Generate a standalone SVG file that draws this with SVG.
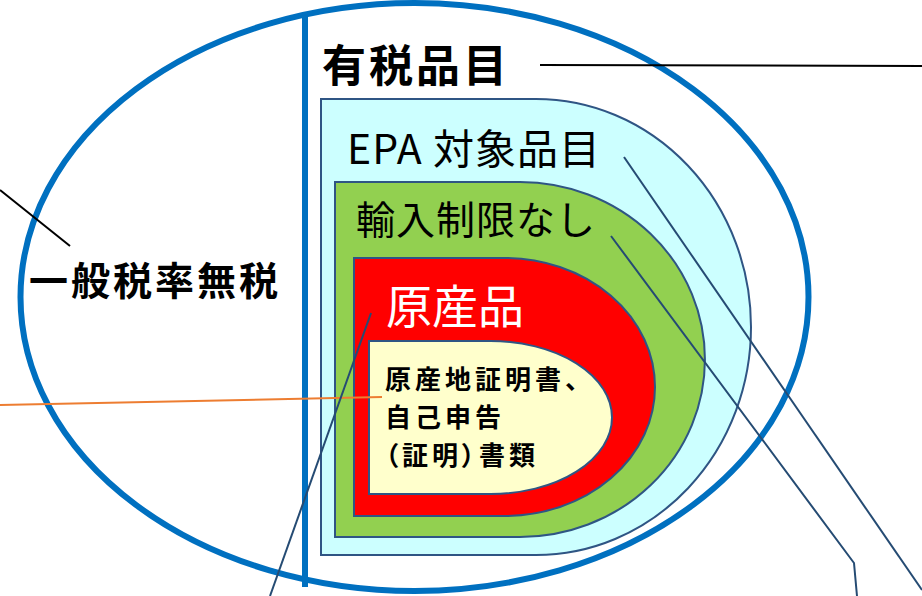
<svg xmlns="http://www.w3.org/2000/svg" width="922" height="596" viewBox="0 0 922 596">
<style>
.t{font-family:"Noto Sans CJK JP","Noto Sans",sans-serif;fill:#000}
.b{font-weight:bold}
.sh{stroke:#2F5584;stroke-width:2}
.ln{fill:none;stroke-width:2}
</style>
<rect width="922" height="596" fill="#fff"/>
<g id="outer">
<ellipse cx="414.5" cy="297" rx="394" ry="294" fill="none" stroke="#0070C0" stroke-width="6"/>
<line x1="305" y1="15" x2="305" y2="587" stroke="#0070C0" stroke-width="6"/>
</g>
<g id="taxable">
<text class="t b" x="322" y="82" font-size="44" letter-spacing="3">有税品目</text>
</g>
<g id="epa">
<path class="sh" d="M321,99 H536 A215,228 0 0 1 536,555 H321 Z" fill="#CCFFFF"/>
<text class="t" x="347" y="164" font-size="41" letter-spacing="1">EPA 対象品目</text>
</g>
<g id="norestrict">
<path class="sh" d="M335,182 H520 A185,177.5 0 0 1 520,537 H335 Z" fill="#92D050"/>
<text class="t" x="356" y="234" font-size="39" letter-spacing="1">輸入制限なし</text>
</g>
<g id="origin">
<path class="sh" d="M354,258 H504.5 A150.5,129 0 0 1 504.5,516 H354 Z" fill="#FF0000"/>
<text class="t" x="386" y="323" font-size="46" style="fill:#fff">原産品</text>
</g>
<g id="docs">
<path class="sh" d="M369,341 H490.5 A121.5,76.5 0 0 1 490.5,494 H369 Z" fill="#FFFFCC"/>
<text class="t b" font-size="26" letter-spacing="4" style="font-feature-settings:'palt'"><tspan x="385" y="389">原産地証明書、</tspan><tspan x="385" y="427">自己申告</tspan><tspan x="385" y="465">（証明）書類</tspan></text>
</g>
<g id="general">
<text class="t b" x="29" y="295" font-size="39" letter-spacing="3">一般税率無税</text>
</g>
<g id="connectors">
<line class="ln" x1="0" y1="190" x2="70" y2="246" stroke="#000"/>
<line class="ln" x1="540" y1="65" x2="922" y2="66" stroke="#000"/>
<line class="ln" x1="0" y1="405" x2="382" y2="397" stroke="#ED7D31"/>
<line class="ln" x1="371" y1="313" x2="270" y2="596" stroke="#254B73"/>
<line class="ln" x1="624" y1="157" x2="922" y2="590" stroke="#254B73"/>
<polyline class="ln" points="611,236 854,563 857,596" stroke="#254B73"/>
</g>
</svg>
